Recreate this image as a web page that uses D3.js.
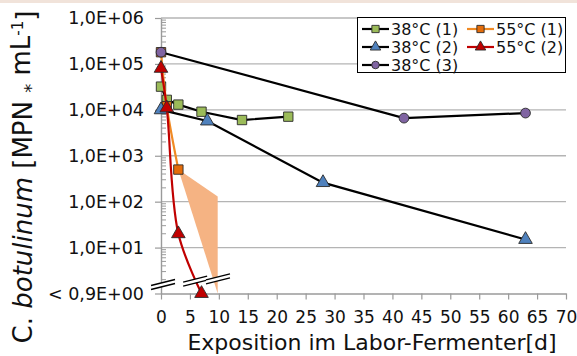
<!DOCTYPE html>
<html>
<head>
<meta charset="utf-8">
<script src="https://cdn.jsdelivr.net/npm/d3@7"></script>
<style>
  body { margin: 0; background: #fff; }
  svg { display: block; font-family: "DejaVu Sans", Verdana, sans-serif; }
</style>
</head>
<body>
<script>
// values (MPN per mL, days in lab fermenter)
const floorValue = 1; // "< 0,9E+00" is plotted on the bottom line

const days38_1 = [0, 1, 3, 7, 14, 22]
const mpn38_1 = [32000, 16500, 13000, 9100, 6000, 7100]

const days55_1 = [0, 1, 3]
const mpn55_1 = [180000, 12000, 500]

const days38_2 = [0, 8, 28, 63]
const mpn38_2 = [10000, 5700, 260, 15]

const days55_2 = [0, 1, 3, 7]
const mpn55_2 = [80000, 11000, 20, floorValue]

const days38_3 = [0, 42, 63]
const mpn38_3 = [180000, 6600, 8500]

// shaded range after the last 55°C (1) value
const bandDays = [3, 9.8, 9.8]
const bandMpn = [500, 130, floorValue]

// axis break symbols
const breakDays = [0.35, 5.9, 9.85]
const breakMpn = [1.57, 1.87, 2.07]

const yTickValues = [1e6, 1e5, 1e4, 1e3, 1e2, 1e1, 1]
const yTickLabels = ["1,0E+06", "1,0E+05", "1,0E+04", "1,0E+03", "1,0E+02", "1,0E+01", "< 0,9E+00"]
const xTickValues = [0, 5, 10, 15, 20, 25, 30, 35, 40, 45, 50, 55, 60, 65, 70]

const series = [
    { name: "38°C (1)", days: days38_1, mpn: mpn38_1, line: "#000", fill: "#9bbb59", marker: "square", smooth: false },
    { name: "55°C (1)", days: days55_1, mpn: mpn55_1, line: "#f08a24", fill: "#e46c0a", marker: "square", smooth: true },
    { name: "38°C (2)", days: days38_2, mpn: mpn38_2, line: "#000", fill: "#4f81bd", marker: "triangle", smooth: false },
    { name: "55°C (2)", days: days55_2, mpn: mpn55_2, line: "#c00000", fill: "#c00000", marker: "triangle", smooth: true },
    { name: "38°C (3)", days: days38_3, mpn: mpn38_3, line: "#000", fill: "#8064a2", marker: "circle", smooth: false }
]

const width = 577
const height = 356

const svg = d3.select("body")
    .append("svg")
    .attr("width", width)
    .attr("height", height)

svg.append("rect").attr("width", width).attr("height", height).attr("fill", "#fff")
svg.append("rect").attr("width", width).attr("height", 3).attr("fill", "#f1e3da")

const x = d3.scaleLinear()
    .domain([0, 70])
    .range([161, 566])

const y = d3.scaleLog()
    .domain([1, 1e6])
    .range([293.5, 18])

// gridlines
svg.append("g")
    .selectAll("line")
    .data(yTickValues.slice(0, 6))
    .enter()
    .append("line")
    .attr("x1", x(0))
    .attr("x2", x(70))
    .attr("y1", d => y(d))
    .attr("y2", d => y(d))
    .attr("stroke", "#b4b4b4")
    .attr("stroke-width", 1.4)

// minor ticks inside the y axis
let minor = y.ticks().filter(d => Math.abs(Math.log10(d) - Math.round(Math.log10(d))) > 1e-6)
svg.append("g")
    .selectAll("line")
    .data(minor)
    .enter()
    .append("line")
    .attr("x1", x(0))
    .attr("x2", x(0) + 5)
    .attr("y1", d => y(d))
    .attr("y2", d => y(d))
    .attr("stroke", "#9a9a9a")
    .attr("stroke-width", 1)

let yAxis = svg.append("g")
    .attr("transform", `translate(${x(0)}, 0)`)
    .call(d3.axisLeft(y).tickValues(yTickValues).tickFormat((d, i) => yTickLabels[i]).tickSize(6).tickPadding(11).tickSizeOuter(0))

let xAxis = svg.append("g")
    .attr("transform", `translate(0, ${y(1)})`)
    .call(d3.axisBottom(x).tickValues(xTickValues).tickSize(6).tickPadding(11).tickSizeOuter(0))

for (const ax of [xAxis, yAxis]) {
    ax.select(".domain").attr("stroke", "#9a9a9a").attr("stroke-width", 1.4)
    ax.selectAll(".tick line").attr("stroke", "#9a9a9a").attr("stroke-width", 1.2)
    ax.selectAll(".tick text").attr("fill", "#111").style("font-size", "17.5px").style("font-family", "DejaVu Sans")
}
xAxis.selectAll(".tick text").style("font-size", "17px")

// shaded band
svg.append("path")
    .datum(d3.zip(bandDays, bandMpn))
    .attr("d", d3.line().x(d => x(d[0])).y(d => y(d[1])))
    .attr("fill", "#f5b383")
    .attr("stroke", "none")

const symbols = { square: d3.symbolSquare, triangle: d3.symbolTriangle, circle: d3.symbolCircle }
const sizes = { square: 88, triangle: 80, circle: 75 }

const straight = d3.line().x(d => x(d[0])).y(d => y(d[1]))
const smooth = d3.line().x(d => x(d[0])).y(d => y(d[1])).curve(d3.curveCatmullRom.alpha(0.5))

series.forEach(s => {
    let pts = d3.zip(s.days, s.mpn)
    let g = svg.append("g")
    g.append("path")
        .datum(pts)
        .attr("d", s.smooth ? smooth : straight)
        .attr("fill", "none")
        .attr("stroke", s.line)
        .attr("stroke-width", 2.2)
    g.selectAll("path.mark")
        .data(pts)
        .enter()
        .append("path")
        .attr("class", "mark")
        .attr("transform", d => `translate(${x(d[0])}, ${y(d[1])})`)
        .attr("d", d3.symbol().type(symbols[s.marker]).size(sizes[s.marker]))
        .attr("fill", s.fill)
        .attr("stroke", "#2a2a2a")
        .attr("stroke-width", 0.9)
})

// break symbols "//"
svg.append("g")
    .selectAll("g")
    .data(d3.zip(breakDays, breakMpn))
    .enter()
    .append("g")
    .attr("transform", d => `translate(${x(d[0])}, ${y(d[1])})`)
    .each(function () {
        let g = d3.select(this)
        g.append("path").attr("d", "M-12,5 L12,-1 L12,-5 L-12,1 Z").attr("fill", "#fff")
        g.append("path").attr("d", "M-12,5 L12,-1 M-12,1 L12,-5").attr("stroke", "#000").attr("stroke-width", 1.3)
    })

// legend
let legend = svg.append("g").attr("id", "legend")
legend.append("rect")
    .attr("x", 357.5).attr("y", 17.5)
    .attr("width", 208).attr("height", 55)
    .attr("fill", "#fff").attr("stroke", "#000").attr("stroke-width", 1)

let legendPos = [[362, 29], [467, 29], [362, 47], [467, 47], [362, 65]]
series.forEach((s, i) => {
    let [lx, ly] = legendPos[i]
    let g = legend.append("g").attr("transform", `translate(${lx}, ${ly})`)
    g.append("line").attr("x1", 0).attr("x2", 27).attr("stroke", s.line).attr("stroke-width", 2.2)
    g.append("path")
        .attr("transform", "translate(13.5, 0)")
        .attr("d", d3.symbol().type(symbols[s.marker]).size(sizes[s.marker] * 0.6))
        .attr("fill", s.fill).attr("stroke", "#2a2a2a").attr("stroke-width", 0.9)
    g.append("text")
        .attr("x", 29).attr("dy", "0.36em")
        .style("font-size", "16px")
        .attr("fill", "#111")
        .text(s.name)
})

// axis titles
svg.append("text")
    .attr("x", 372)
    .attr("y", 350)
    .attr("text-anchor", "middle")
    .style("font-size", "22px")
    .attr("fill", "#111")
    .text("Exposition im Labor-Fermenter[d]")

let yTitle = svg.append("text")
    .attr("transform", "translate(32, 177) rotate(-90)")
    .attr("text-anchor", "middle")
    .style("font-size", "26px")
    .attr("fill", "#111")
yTitle.append("tspan").text("C. ")
yTitle.append("tspan").style("font-style", "italic").text("botulinum")
yTitle.append("tspan").text(" [MPN ")
yTitle.append("tspan").attr("dy", "0.25em").style("font-size", "18px").text("*")
yTitle.append("tspan").attr("dy", "-0.25em").text(" mL")
yTitle.append("tspan").attr("dy", "-0.45em").style("font-size", "15px").text("-1")
yTitle.append("tspan").attr("dy", "0.45em").text("]")
</script>
</body>
</html>
